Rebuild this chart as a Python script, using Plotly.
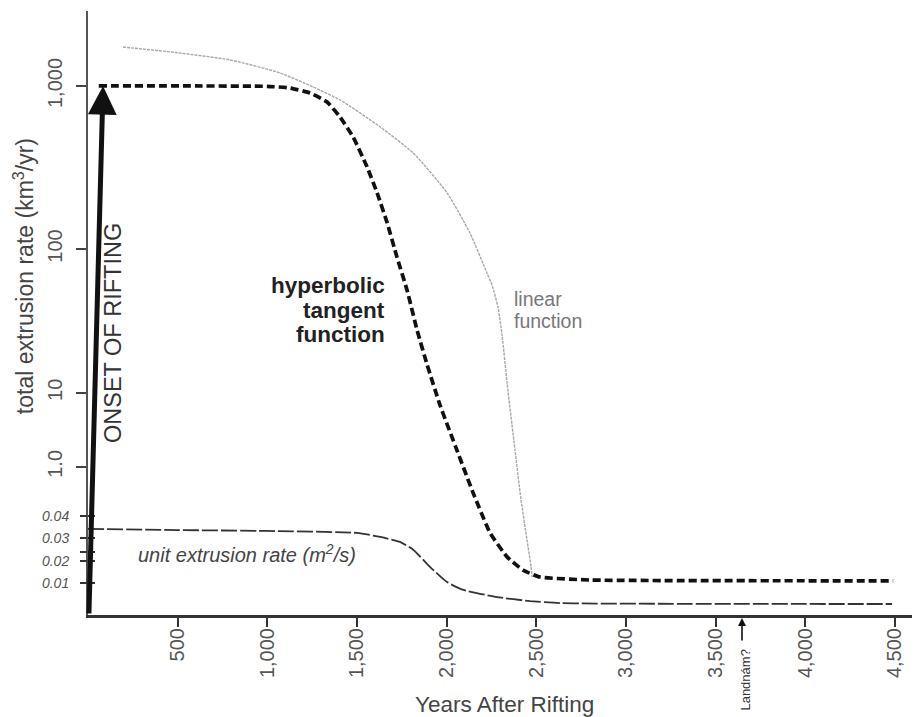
import plotly.graph_objects as go

# ---- data ----
years_tanh = [60, 600, 1000, 1127, 1238, 1333, 1405, 1478, 1556, 1612, 1668, 1723, 1779,
              1835, 1891, 1963, 2058, 2147, 2242, 2337, 2426, 2521, 2800, 4490]
rate_tanh = [1000, 1000, 995, 972, 906, 798, 646, 487, 319, 221, 145, 89, 56,
             31.8, 19.5, 11, 5.8, 3.2, 1.81, 1.29, 1.07, 0.97, 0.93, 0.92]

years_linear = [195, 513, 792, 1071, 1255, 1405, 1628, 1813, 2002, 2130, 2225, 2253,
                2287, 2309, 2337, 2381, 2415, 2448, 2471, 2476]
rate_linear = [1734, 1592, 1444, 1202, 986, 821, 562, 388, 221, 125, 71, 60,
               43.5, 29.6, 15.1, 5.85, 2.88, 1.64, 1.12, 0.97]

years_unit = [0, 500, 1000, 1500, 1630, 1740, 1815, 1907, 2002, 2093, 2281, 2465, 2632, 4484]
unit_rate = [0.0342, 0.0337, 0.0333, 0.0324, 0.0306, 0.0284, 0.0248, 0.0172, 0.0104,
             0.0069, 0.0037, 0.0019, 0.0010, 0.0006]

x_tickvals = [500, 1000, 1500, 2000, 2500, 3000, 3500, 4000, 4500]
x_ticktext = ["500", "1,000", "1,500", "2,000", "2,500", "3,000", "3,500", "4,000", "4,500"]

y_tickvals = [1000, 100, 13.09, 4.60]
y_ticktext = ["1,000", "100", "10", "1.0"]

unit_tickvals = [0.01, 0.02, 0.0239, 0.03, 0.04]
unit_ticktext = ["0.01", "0.02", "", "0.03", "0.04"]

onset_year = 84
landnam_year = 3647

FONT = "Liberation Sans, Arial, sans-serif"

fig = go.Figure()

fig.add_trace(go.Scatter(
    x=years_linear, y=rate_linear, mode="lines", yaxis="y",
    line=dict(color="#a8a8a8", width=1.4, dash="3px,1px", shape="spline", smoothing=0.6),
    hoverinfo="skip", showlegend=False))

fig.add_trace(go.Scatter(
    x=years_tanh, y=rate_tanh, mode="lines", yaxis="y",
    line=dict(color="#111111", width=3.7, dash="8px,4px", shape="spline", smoothing=0.4),
    hoverinfo="skip", showlegend=False))

fig.add_trace(go.Scatter(
    x=years_unit, y=unit_rate, mode="lines", yaxis="y2",
    line=dict(color="#333333", width=1.8, dash="16px,3px", shape="spline", smoothing=0.5),
    hoverinfo="skip", showlegend=False))

fig.add_trace(go.Scatter(
    x=years_unit, y=unit_rate, mode="lines", yaxis="y3", opacity=0,
    hoverinfo="skip", showlegend=False))

ylog_range = [-0.246, 3.460]
yunit_range = [-0.00433, 0.2661]

fig.update_layout(
    width=920, height=717, autosize=False,
    margin=dict(l=80, r=16, t=3, b=110),
    paper_bgcolor="white", plot_bgcolor="white",
    font=dict(family=FONT, color="#444"),
    xaxis=dict(range=[0, 4595], showline=True, linecolor="#333", linewidth=3,
               ticks="outside", ticklen=9, tickwidth=2, tickcolor="#333",
               tickvals=x_tickvals, ticktext=x_ticktext, tickangle=-90,
               tickfont=dict(size=20, color="#555", family=FONT),
               ticklabelstandoff=-7, automargin=False,
               showgrid=False, zeroline=False),
    yaxis=dict(type="log", range=ylog_range, showline=True, linecolor="#555", linewidth=2,
               ticks="outside", ticklen=10, tickwidth=2, tickcolor="#444",
               tickvals=y_tickvals, ticktext=y_ticktext, tickangle=-90,
               tickfont=dict(size=20, color="#555", family=FONT),
               ticklabelstandoff=6, automargin=False, showgrid=False, zeroline=False),
    yaxis2=dict(overlaying="y", side="left", range=yunit_range, showline=False,
                ticks="outside", ticklen=7, tickwidth=2, tickcolor="#333",
                tickvals=unit_tickvals, ticktext=unit_ticktext, automargin=False,
                ticklabelstandoff=8,
                tickfont=dict(size=14, color="#555", family=FONT, style="italic"),
                showgrid=False, zeroline=False),
    yaxis3=dict(overlaying="y", side="left", range=yunit_range, showline=False,
                ticks="inside", ticklen=7, tickwidth=2, tickcolor="#333",
                tickvals=unit_tickvals, showticklabels=False, automargin=False,
                showgrid=False, zeroline=False),
)

ann = []
# onset of rifting arrow
ann.append(dict(x=onset_year, y=3, xref="x", yref="y", ax=5, ay=ylog_range[0],
                axref="x", ayref="y", text="", showarrow=True, arrowhead=2,
                arrowwidth=5, arrowsize=1.15, arrowcolor="#111"))
ann.append(dict(x=140, y=1.485, xref="x", yref="y", xanchor="center", yanchor="middle",
                text="ONSET OF RIFTING", textangle=-90, showarrow=False,
                font=dict(size=23.5, color="#333", family=FONT)))
# hyperbolic tangent function label (three lines)
for txt, yv in [("hyperbolic", 1.777), ("tangent", 1.623), ("function", 1.476)]:
    ann.append(dict(x=1668, y=yv, xref="x", yref="y", xanchor="right", yanchor="middle",
                    text="<b>%s</b>" % txt, showarrow=False,
                    font=dict(size=22.5, color="#222", family=FONT)))
for txt, yv in [("linear", 1.693), ("function", 1.558)]:
    ann.append(dict(x=2365, y=yv, xref="x", yref="y", xanchor="left", yanchor="middle",
                    text=txt, showarrow=False,
                    font=dict(size=19.5, color="#777", family=FONT)))
ann.append(dict(x=888, y=0.0234, xref="x", yref="y2", xanchor="center", yanchor="middle",
                text="<i>unit extrusion rate (m<sup>2</sup>/s)</i>", showarrow=False,
                font=dict(size=20, color="#444", family=FONT)))
ann.append(dict(x=-0.0777, y=0.561, xref="paper", yref="paper", textangle=-90,
                xanchor="center", yanchor="middle",
                text="total extrusion rate (km<sup>3</sup>/yr)", showarrow=False,
                font=dict(size=23, color="#444", family=FONT)))
ann.append(dict(x=0.505, y=-0.149, xref="paper", yref="paper",
                xanchor="center", yanchor="middle",
                text="Years After Rifting", showarrow=False,
                font=dict(size=22.5, color="#444", family=FONT)))
# Landnám marker
ann.append(dict(x=landnam_year, y=-0.005, xref="x", yref="paper", ax=0, ay=24,
                text="", showarrow=True, arrowhead=2, arrowwidth=1.6, arrowsize=1,
                arrowcolor="#111"))
ann.append(dict(x=landnam_year + 20, y=-0.1076, xref="x", yref="paper", textangle=-90,
                xanchor="center", yanchor="middle",
                text="Landnám?", showarrow=False,
                font=dict(size=13, color="#333", family=FONT)))

fig.update_layout(annotations=ann)

fig.write_html("out.html")
